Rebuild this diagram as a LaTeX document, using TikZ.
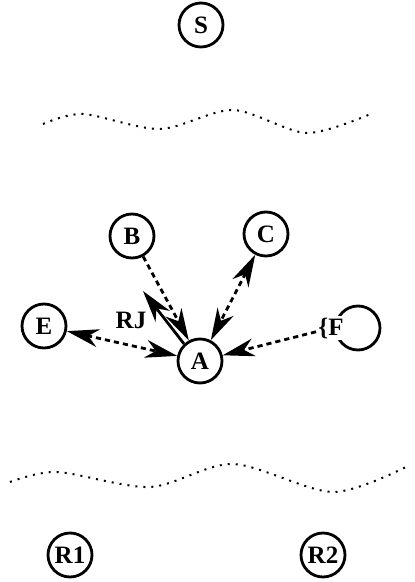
\documentclass[tikz,border=0pt]{standalone}
\usepackage{fontspec}
\setmainfont{Liberation Serif}
\usetikzlibrary{arrows.meta}
\tikzset{
  >={Stealth[length=16pt,width=9pt,inset=5pt]},
  st/.style   ={circle, draw, line width=1.4pt, minimum size=22pt,
                inner sep=0pt, font=\fontsize{12.5}{14}\selectfont\bfseries},
  lbl/.style  ={inner sep=1pt, font=\fontsize{12.5}{14}\selectfont\bfseries},
  dsh/.style  ={draw, line width=1.4pt, dash pattern=on 2.6pt off 2pt},
  sol/.style  ={draw, line width=1.4pt},
  wave/.style ={draw, line width=1pt, dash pattern=on 1pt off 3pt},
}
\begin{document}
\begin{tikzpicture}[x=0.5pt,y=-0.5pt]
\useasboundingbox (0,0) rectangle (414,582);
\node[st] (S)  at (201,25)  {S};
% layer boundaries
\draw[wave] plot[smooth] coordinates {(43,124) (83,114) (160,129) (233,110) (307,133) (373,113)};
\draw[wave] plot[smooth] coordinates {(10,482) (57,472) (150,487) (233,464) (333,492) (410,465)};
\node[st] (B)  at (132,236) {B};
\node[st] (C)  at (266,234) {C};
\node[st] (E)  at (44,326)  {E};
\node[st] (A)  at (200,361) {A};
\node[st] (F)  at (358,328) {};
\node[lbl, fill=white] (Fl) at (331,328) {\{F};
\node[lbl] (rj) at (131,320) {RJ};
\coordinate (rjtip) at (143,291);
\node[st] (R1) at (70,555)  {R1};
\node[st] (R2) at (323,555) {R2};
\draw[dsh,->]  (B)  -- (A);
\draw[dsh,<->] (C)  -- (A);
\draw[dsh,<->] (E)  -- (A);
\draw[dsh,->]  (Fl) -- (A);
\draw[sol,->]  (A.133) -- (rjtip);
\end{tikzpicture}
\end{document}
